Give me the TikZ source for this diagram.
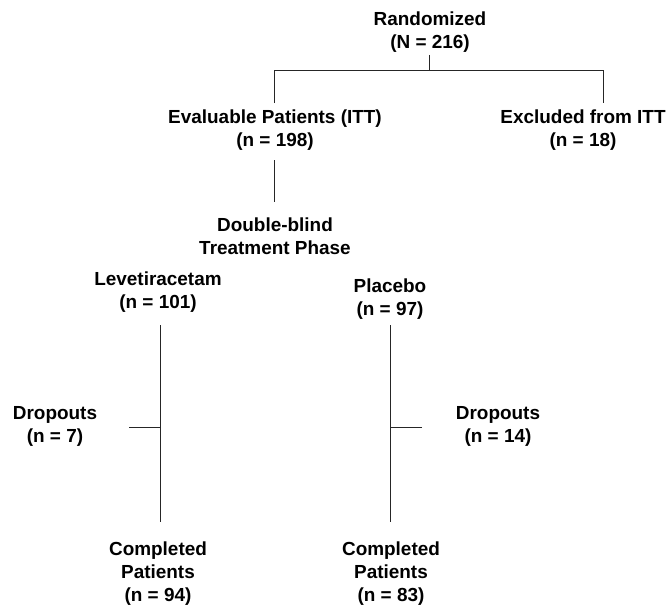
\documentclass[tikz,border=0pt]{standalone}
\usepackage{fontspec}
\setmainfont{Liberation Sans}
\begin{document}
\begin{tikzpicture}[x=0.75pt,y=-0.75pt,
  lbl/.style={font=\bfseries\fontsize{14.2}{17.25}\selectfont, align=center, inner sep=0pt},
  ln/.style={line width=0.7pt, black!85}]
\useasboundingbox (0,0) rectangle (670,610);
% nodes
\node[lbl] (rand) at (430,32) {Randomized\\(N = 216)};
\node[lbl] (eval) at (275,130) {Evaluable Patients (ITT)\\(n = 198)};
\node[lbl] (excl) at (583,130) {Excluded from ITT\\(n = 18)};
\node[lbl] (db) at (275,236) {Double-blind\\Treatment Phase};
\node[lbl] (lev) at (158,292) {Levetiracetam\\(n = 101)};
\node[lbl] (pla) at (390,299) {Placebo\\(n = 97)};
\node[lbl] (dol) at (55,426) {Dropouts\\(n = 7)};
\node[lbl] (dor) at (498,426) {Dropouts\\(n = 14)};
\node[lbl] (col) at (158,574) {Completed\\Patients\\(n = 94)};
\node[lbl] (cor) at (391,574) {Completed\\Patients\\(n = 83)};
% junction coordinates
\coordinate (rt) at (429,55);
\coordinate (jm) at (429,70);
\coordinate (jl) at (274,70);
\coordinate (jr) at (603,70);
\coordinate (jlb) at (274,103);
\coordinate (jrb) at (603,103);
\coordinate (et) at (274,160);
\coordinate (eb) at (274,202);
\coordinate (lt) at (160,325);
\coordinate (lb) at (160,522);
\coordinate (pt) at (390,325);
\coordinate (pb) at (390,522);
\coordinate (tl) at (129,427);
\coordinate (tr) at (422,427);
% connectors
\draw[ln] (rt) -- (jm);
\draw[ln] (jlb) -- (jl) -- (jr) -- (jrb);
\draw[ln] (et) -- (eb);
\draw[ln] (lt) -- (lb);
\draw[ln] (pt) -- (pb);
\draw[ln] (tl) -- (tl -| lt);
\draw[ln] (tr) -- (tr -| pt);
\end{tikzpicture}
\end{document}
